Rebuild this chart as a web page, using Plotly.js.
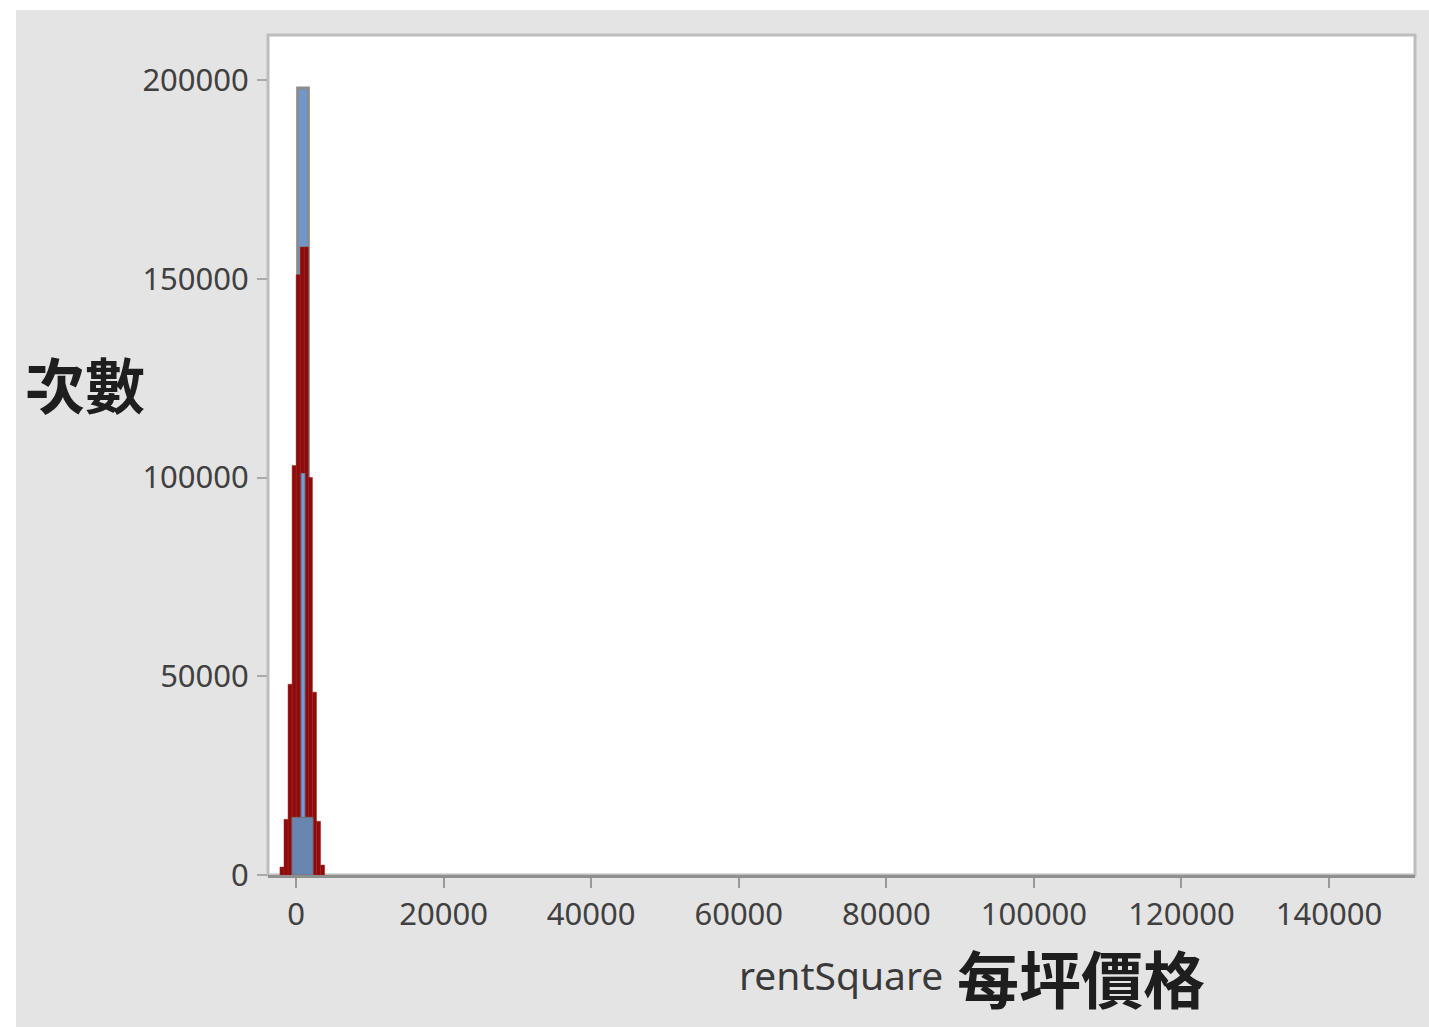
<!DOCTYPE html>
<html>
<head>
<meta charset="utf-8">
<script src="https://cdn.plot.ly/plotly-3.0.1.min.js"></script>
<style>
  html, body { margin: 0; padding: 0; background: #ffffff; }
  #chart { position: absolute; left: 16px; top: 10px; width: 1413px; height: 1017px; }
</style>
</head>
<body>
<div id="chart"></div>
<script>
// Red histogram (bin centers, counts)
const redCenters = [-1900, -1350, -800, -250, 300, 850, 1400, 1950, 2500, 3050, 3600];
const redCounts  = [2000, 14000, 48000, 103000, 151000, 158000, 158000, 100000, 46000, 13500, 2500];

// Blue histogram: tall spike, inner core and broad base
const blueSpikeCenters = [950];
const blueSpikeCounts  = [198000];
const blueCoreCenters  = [950];
const blueCoreCounts   = [101000];
const blueBaseCenters  = [880];
const blueBaseCounts   = [14500];

// Axis ticks
const xTicks = [0, 20000, 40000, 60000, 80000, 100000, 120000, 140000];
const yTicks = [0, 50000, 100000, 150000, 200000];

const xTitleLatin = 'rentSquare';
const xTitleCJK = '每坪價格';
const yTitle = '次數';

const traces = [
  { type: 'bar', x: blueSpikeCenters, y: blueSpikeCounts, width: 1450,
    marker: { color: '#6f97cc', line: { color: '#8c8c8c', width: 3 } }, hoverinfo: 'skip' },
  { type: 'bar', x: redCenters, y: redCounts, width: 555,
    marker: { color: '#8e0b0b', line: { color: '#a32020', width: 0.5 } }, hoverinfo: 'skip' },
  { type: 'bar', x: blueCoreCenters, y: blueCoreCounts, width: 500,
    marker: { color: '#6fa0d8', line: { color: '#6a7fa0', width: 1 } }, hoverinfo: 'skip' },
  { type: 'bar', x: blueBaseCenters, y: blueBaseCounts, width: 2850,
    marker: { color: '#6886b0', line: { color: '#707070', width: 1 } }, hoverinfo: 'skip' }
];

const tickFont = { family: 'Noto Sans, DejaVu Sans, sans-serif', size: 31, color: '#404040' };

const layout = {
  width: 1413, height: 1017,
  margin: { l: 252, r: 14, t: 25, b: 152 },
  paper_bgcolor: '#e4e4e4',
  plot_bgcolor: '#ffffff',
  showlegend: false,
  barmode: 'overlay',
  bargap: 0,
  xaxis: {
    range: [-3795, 151647],
    tickvals: xTicks,
    ticktext: xTicks.map(String),
    ticks: 'outside', ticklen: 10, tickwidth: 2, tickcolor: '#999999',
    showgrid: false, zeroline: false,
    showline: true, linecolor: '#8f8f8f', linewidth: 3,
    tickfont: tickFont,
    fixedrange: true
  },
  yaxis: {
    range: [0, 211320],
    tickvals: yTicks,
    ticktext: yTicks.map(String),
    ticks: 'outside', ticklen: 10, tickwidth: 2, tickcolor: '#aaaaaa',
    ticklabelstandoff: 2,
    showgrid: false, zeroline: false,
    showline: false,
    tickfont: tickFont,
    fixedrange: true
  },
  shapes: [
    { type: 'rect', xref: 'paper', yref: 'paper', x0: 0, x1: 1, y0: 0, y1: 1,
      line: { color: '#bdbdbd', width: 3 }, layer: 'below' }
  ],
  annotations: [
    { text: yTitle, xref: 'paper', yref: 'paper', x: -0.1595, y: 0.586,
      xanchor: 'center', yanchor: 'middle', showarrow: false,
      font: { family: 'Noto Sans CJK TC', size: 60, color: '#1e1e1e', weight: 700 } },
    { text: xTitleLatin, xref: 'paper', yref: 'paper', x: 0.5902, y: -0.119,
      xanchor: 'right', yanchor: 'middle', showarrow: false,
      font: { family: 'Noto Sans, DejaVu Sans, sans-serif', size: 39, color: '#3a3a3a' } },
    { text: xTitleCJK, xref: 'paper', yref: 'paper', x: 0.599, y: -0.1214,
      xanchor: 'left', yanchor: 'middle', showarrow: false,
      font: { family: 'Noto Sans CJK TC', size: 62, color: '#1e1e1e', weight: 700 } }
  ]
};

Plotly.newPlot('chart', traces, layout, { displayModeBar: false, staticPlot: true });
</script>
</body>
</html>
